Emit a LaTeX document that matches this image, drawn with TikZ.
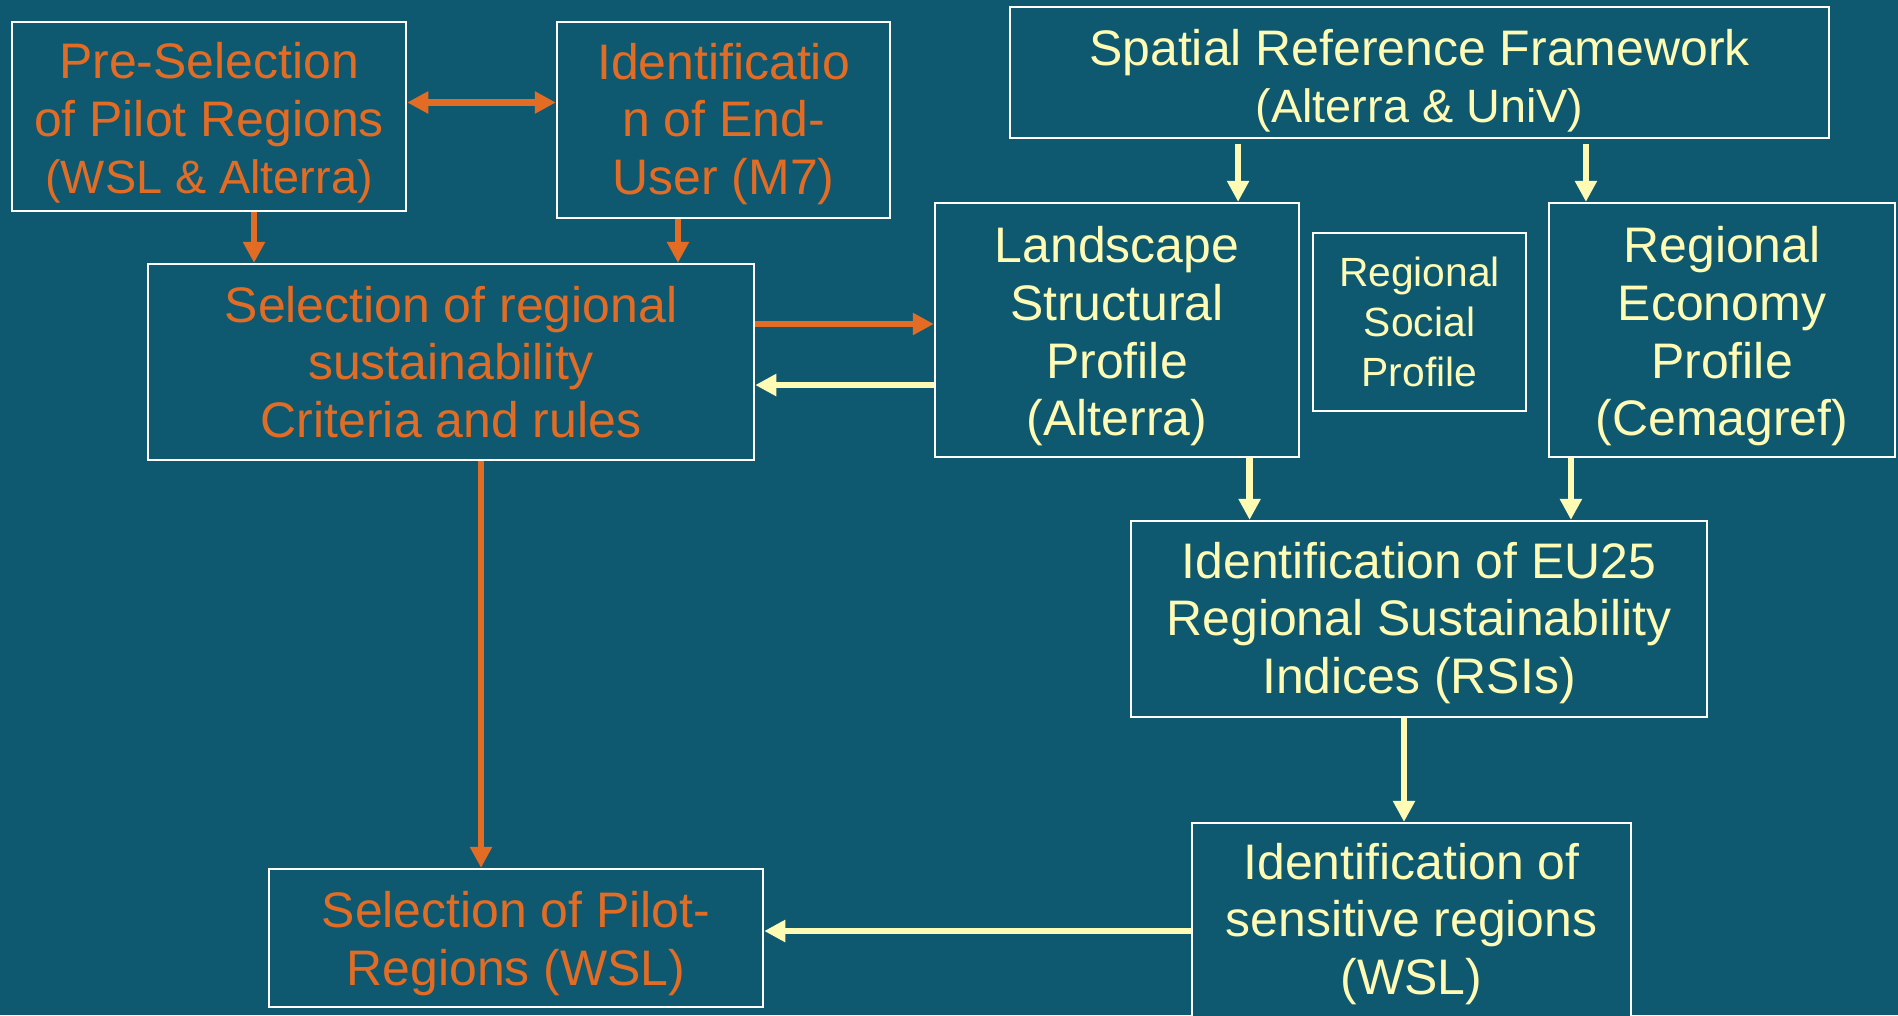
\documentclass[tikz,border=0pt]{standalone}
\usepackage{fontspec}
\setmainfont{Liberation Sans}
\usetikzlibrary{arrows.meta}
\definecolor{slidebg}{RGB}{14,89,112}
\definecolor{txtorange}{RGB}{227,108,36}
\definecolor{txtyellow}{RGB}{255,250,180}
\newcommand{\subtxt}[1]{{\fontsize{13.3}{16.4}\selectfont #1}}
\newcommand{\tg}[1]{\rule{0pt}{#1}}

\begin{document}
\begin{tikzpicture}[x=0.01cm, y=-0.01cm,
  every node/.style={align=center, inner sep=0pt, font=\fontsize{14.2}{16.4}\selectfont},
  box/.style={draw=white, line width=0.6pt, fill=slidebg},
  obox/.style={box, text=txtorange},
  ybox/.style={box, text=txtyellow},
  >={Triangle[width=6pt,length=6pt]},
  oline/.style={txtorange, line width=1.85pt},
  yline/.style={txtyellow, line width=1.85pt}]

	\useasboundingbox (0,0) rectangle (1898,1015);
	\fill[slidebg] (0,0) rectangle (1898,1015);
	\clip (0,0) rectangle (1898,1015);

	% LEFT SIDE (orange)
	\node[obox, minimum width=3.94cm, minimum height=1.89cm] (presel) at (209,116.5) {\tg{14pt}Pre-Selection\\of Pilot Regions\\\subtxt{(WSL \& Alterra)}};
	\node[obox, minimum width=3.33cm, minimum height=1.96cm] (enduser) at (723.5,120) {\tg{12.5pt}Identificatio\\n of End-\\User (M7)};
	\node[obox, minimum width=6.06cm, minimum height=1.96cm] (criteria) at (451,362) {Selection of regional\\sustainability\\Criteria and rules};
	\node[obox, minimum width=4.94cm, minimum height=1.38cm] (pilotsel) at (516,938) {\tg{13.5pt}Selection of Pilot-\\Regions (WSL)};

	% RIGHT SIDE (yellow)
	\node[ybox, minimum width=8.19cm, minimum height=1.31cm] (srf) at (1419.5,72.5) {\tg{15pt}Spatial Reference Framework\\\subtxt{(Alterra \& UniV)}};
	\node[ybox, minimum width=3.64cm, minimum height=2.54cm] (landscape) at (1117,330) {\tg{14pt}Landscape\\Structural\\Profile\\(Alterra)};
	\node[ybox, minimum width=2.13cm, minimum height=1.78cm, font=\fontsize{11.6}{14.2}\selectfont] (social) at (1419.5,322) {Regional\\Social\\Profile};
	\node[ybox, minimum width=3.46cm, minimum height=2.54cm] (economy) at (1722,330) {\tg{14pt}Regional\\Economy\\Profile\\(Cemagref)};
	\node[ybox, minimum width=5.76cm, minimum height=1.96cm] (rsi) at (1419,619) {\tg{12.5pt}Identification of EU25\\Regional Sustainability\\Indices (RSIs)};
	\node[ybox, minimum width=4.39cm, minimum height=2.02cm] (sensitive) at (1411.5,924) {Identification of\\sensitive regions\\(WSL)};

	% orange arrows
	\coordinate (a1) at ([yshift=0.14cm]presel.east);
	\draw[<->, oline] (a1) -- (a1 -| enduser.west);
	\coordinate (a2) at ([xshift=0.45cm]presel.south);
	\draw[->, oline] (a2) -- (a2 |- criteria.north);
	\coordinate (a3) at ([xshift=-0.455cm]enduser.south);
	\draw[->, oline] (a3) -- (a3 |- criteria.north);
	\coordinate (a4) at ([yshift=0.38cm]criteria.east);
	\draw[->, oline] (a4) -- (a4 -| landscape.west);
	\coordinate (a5) at ([xshift=0.3cm]criteria.south);
	\draw[->, oline] (a5) -- (a5 |- pilotsel.north);

	% yellow arrows
	\coordinate (b1) at ([yshift=-0.55cm]landscape.west);
	\draw[->, yline] (b1) -- (b1 -| criteria.east);
	\coordinate (b2) at ([xshift=1.21cm]landscape.north);
	\draw[->, yline, shorten <=0.05cm] (b2 |- srf.south) -- (b2);
	\coordinate (b3) at ([xshift=-1.36cm]economy.north);
	\draw[->, yline, shorten <=0.05cm] (b3 |- srf.south) -- (b3);
	\coordinate (b4) at ([xshift=1.325cm]landscape.south);
	\draw[->, yline] (b4) -- (b4 |- rsi.north);
	\coordinate (b5) at ([xshift=-1.51cm]economy.south);
	\draw[->, yline] (b5) -- (b5 |- rsi.north);
	\coordinate (b6) at ([xshift=-0.15cm]rsi.south);
	\draw[->, yline] (b6) -- (b6 |- sensitive.north);
	\coordinate (b7) at ([yshift=-0.07cm]sensitive.west);
	\draw[->, yline] (b7) -- (b7 -| pilotsel.east);
\end{tikzpicture}
\end{document}
